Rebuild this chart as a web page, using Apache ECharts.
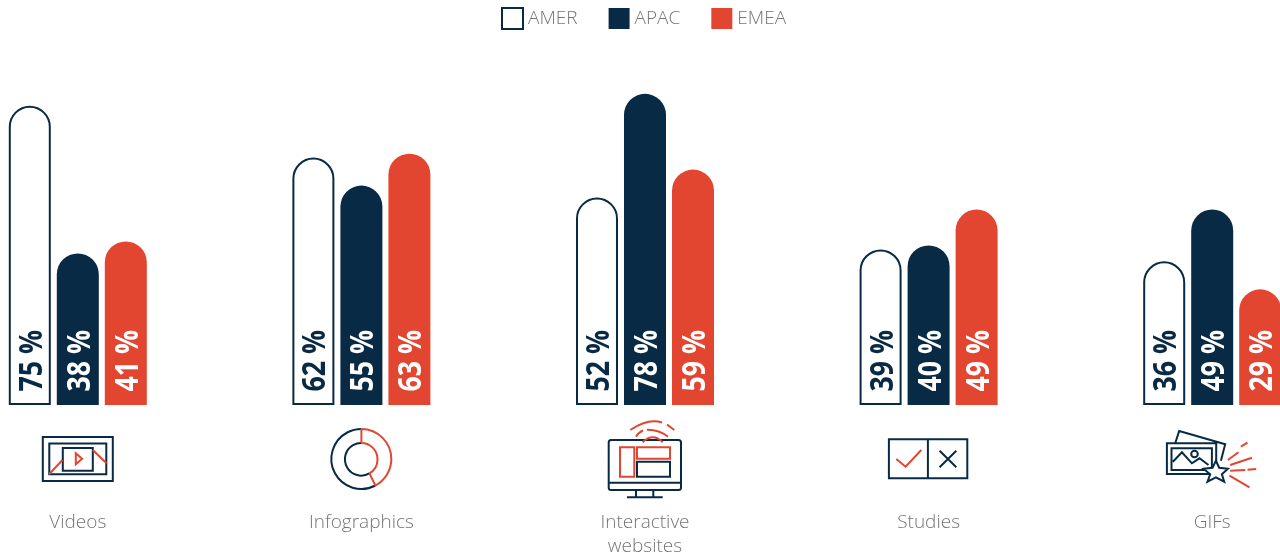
<!DOCTYPE html>
<html><head><meta charset="utf-8">
<style>html,body{margin:0;padding:0;background:#fff}#c{width:1280px;height:555px}</style>
<script src="https://cdn.jsdelivr.net/npm/echarts@6/dist/echarts.min.js"></script>
</head><body><div id="c"></div>
<script>
const categories = ['Videos','Infographics','Interactive\nwebsites','Studies','GIFs'];
const amer = [75,62,52,39,36];
const apac = [38,55,78,40,49];
const emea = [41,63,59,49,29];
const NAVY='#082a45', RED='#e24530', GREY='#757575';

// icon drawings, local to each category's x and the axis baseline
const iconNavy = [
 'M-35 32H35V76H-35Z M-28.5 38.5H28.5V69.3H-28.5Z M-15 43H15V65.7H-15Z',
 'M14 80.5A30 30 0 1 1 0 24 M8 68.4A16.3 16.3 0 1 1 0 38',
 'M-34 35H33.5Q36 35 36 37.5V82.5Q36 85 33.5 85H-34Q-36.3 85 -36.3 82.5V37.5Q-36.3 35 -34 35Z M-36.3 77.7H36 M-9 85V92.3 M8.3 85V92.3 M-18 92.3H17.7 M-8 56.7H25V71.7H-8Z',
 'M-39.7 34.3H38.7V73.3H-39.7Z M-0.7 34.3V73.3 M11 45.7L27.7 62.3 M27.7 45.7L11 62.3',
 'M-37 38.3L-33 26L13 39.3L8.7 55.7 M-45.3 38.3H4V69H-45.3Z M-40.7 43.3H-0.3V65H-40.7Z M-39.3 56.7L-30.3 47.3L-20.3 58.3L-12.7 53.3L-3.7 60 M-14.4 49A3.3 3.3 0 1 1 -21 49A3.3 3.3 0 1 1 -14.4 49Z'
];
const iconRed = [
 'M-2 48.3L4.3 53.8L-2 59.3Z M-28.7 69.3L-15.3 55 M15 45L28.7 58.3',
 'M0 24A30 30 0 0 1 14 80.5 M0 38A16.3 16.3 0 0 1 8 68.4 M0 24V38 M8 68.4L14 80.5',
 'M-25 42.3H-10.7V71.7H-25Z M-8 42.3H25V53.7H-8Z M-2.3 37.3Q7.7 27.3 17.7 37.3 M-9 31.7Q-6 27 -2 25.5 M2 24.7Q14 24.5 23 31.7 M-14.7 25Q3 13 17 17.5 M22 19.5L29.3 25',
 'M-32.3 54L-23 61.7L-7.3 45',
 'M15.7 55L26.3 47.3 M28.7 41.7L35.3 37.7 M18 60L39.7 52.7 M18 65.7L33 65 M35.3 64.7L44 64 M17.3 70.7L37.3 82.3'
];
const iconFill = ['', '', '', '', 'M3.7 55.7L7 62.7L15.7 63.7L9.7 69.3L12 76.7L3.7 72.3L-4.7 76.7L-2 69.3L-8.7 63.7L0.3 62.7Z'];

const chart = echarts.init(document.getElementById('c'), null, {renderer:'canvas'});
const barBase = {type:'bar', barWidth:42, barGap:'14.3%'};
const barPitch = 48;
const valueSets = [amer, apac, emea];
const labelColors = [NAVY, '#fff', '#fff'];

chart.setOption({
  animation:false,
  backgroundColor:'#fff',
  legend:{
    data:['AMER','APAC','EMEA'], top:2, left:496, itemWidth:21, itemHeight:21, itemGap:31,
    textStyle:{color:GREY, fontFamily:'"Open Sans",sans-serif', fontWeight:300, fontSize:19}, selectedMode:false, icon:'rect'
  },
  grid:{left:-64, width:1418, top:6, height:399, outerBoundsMode:'none', containLabel:false},
  xAxis:{type:'category', data:categories, axisLine:{show:false}, axisTick:{show:false},
    axisLabel:{margin:106, interval:0, color:GREY, fontFamily:'"Open Sans",sans-serif', fontWeight:300, fontSize:19, lineHeight:24, verticalAlign:'top'}},
  yAxis:{type:'value', min:0, max:100, show:false, splitLine:{show:false}},
  series:[
    {...barBase, name:'AMER', data:amer, itemStyle:{color:'#fff', borderColor:NAVY, borderWidth:2, borderRadius:[21,21,0,0]}},
    {...barBase, name:'APAC', data:apac, itemStyle:{color:NAVY, borderRadius:[21,21,0,0]}},
    {...barBase, name:'EMEA', data:emea, itemStyle:{color:RED, borderRadius:[21,21,0,0]}},
    {type:'custom', coordinateSystem:'cartesian2d', silent:true, clip:false, z:5,
     data:categories.map((c,i)=>[i,0]),
     encode:{x:0,y:1},
     renderItem:(params,api)=>{
       const i=api.value(0), p=api.coord([i,0]);
       const kids=[
         {type:'path',shape:{pathData:iconNavy[i]},style:{fill:null,stroke:NAVY,lineWidth:2}},
         {type:'path',shape:{pathData:iconRed[i]},style:{fill:null,stroke:RED,lineWidth:2}}
       ];
       if(iconFill[i]) kids.push({type:'path',shape:{pathData:iconFill[i]},style:{fill:'#fff',stroke:NAVY,lineWidth:2}});
       // condensed value labels: no condensed face is installed, so bold text is narrowed
       valueSets.forEach((vals,k)=>{
         kids.push({type:'text',x:(k-1)*barPitch+2.5,y:-13.5,rotation:Math.PI/2,scaleX:0.81,
           style:{text:vals[i]+' %',fill:labelColors[k],align:'left',verticalAlign:'middle',
                  font:'bold 33px "Open Sans",sans-serif'}});
       });
       return {type:'group',x:p[0],y:p[1],children:kids};
     }}
  ]
});
</script></body></html>
